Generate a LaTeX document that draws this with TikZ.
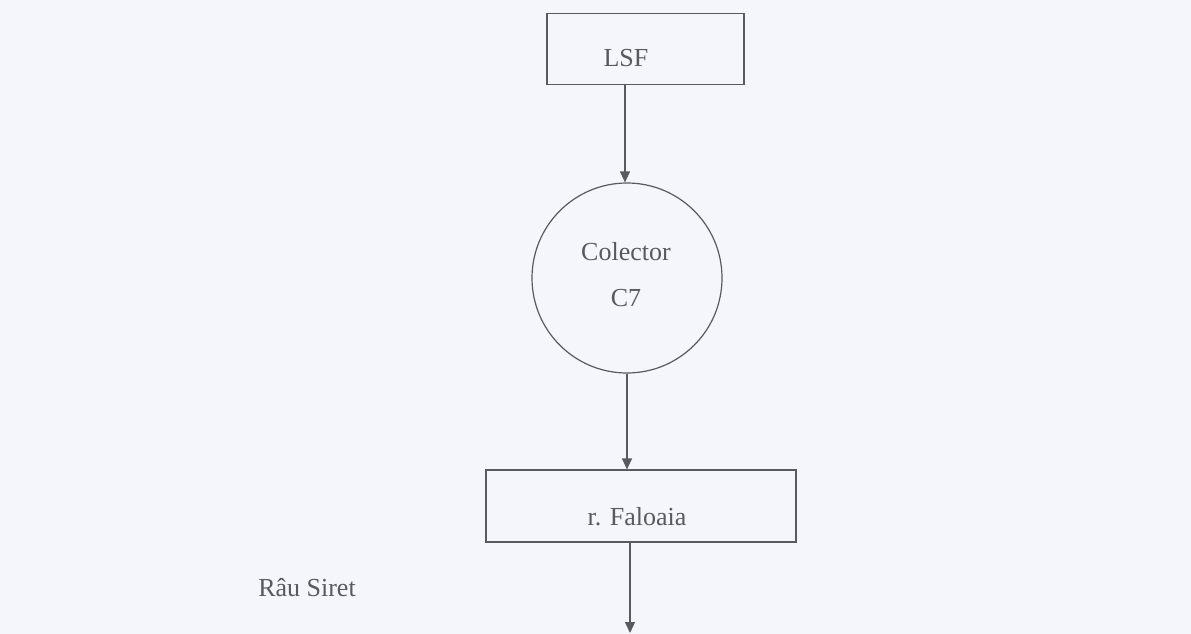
\documentclass[tikz,border=0pt]{standalone}
\usepackage{fontspec}
\setmainfont{Liberation Serif}
\newfontfamily\timesface{Liberation Serif}
\usetikzlibrary{arrows.meta}
\definecolor{paper}{HTML}{F4F6FB}
\definecolor{ink}{HTML}{5A5A5E}
\begin{document}
\begin{tikzpicture}[x=1pt,y=-1pt,
  boxshape/.style={draw=ink,line width=1.2pt,rectangle,inner sep=0pt},
  ringshape/.style={draw=ink,line width=1.2pt,circle,inner sep=0pt,minimum size=190pt},
  lbl/.style={text=ink,font=\timesface\fontsize{26}{30}\selectfont,inner sep=0pt},
  flow/.style={draw=ink,line width=1.2pt,-{Triangle[width=10pt,length=11pt]}}]
  % page
  \fill[paper] (0,0) rectangle (1191,634);
  \useasboundingbox (0,0) rectangle (1191,634);

  % source box
  \node[boxshape,minimum width=197pt,minimum height=71pt] (lsf) at (645.5,49) {};
  \node[lbl] (lsftxt) at (626,58) {LSF};

  % collector
  \node[ringshape] (col) at (627,278) {};
  \node[lbl] (coltxt) at (626,252) {Colector};
  \node[lbl] (c7txt) at (626,298) {C7};

  % receiving stream
  \node[boxshape,minimum width=310pt,minimum height=72pt] (fal) at (641,506) {};
  \node[lbl] (faltxt) at (637,517) {r. Faloaia};

  \node[lbl] (siret) at (307,588) {Râu Siret};

  \coordinate (sink) at (630,633);

  % connectors
  \draw[flow] (lsf.south -| 625,0) -- (col.north -| 625,0);
  \draw[flow] (col.south) -- (col.south |- fal.north);
  \draw[flow] (sink |- fal.south) -- (sink);
\end{tikzpicture}
\end{document}
